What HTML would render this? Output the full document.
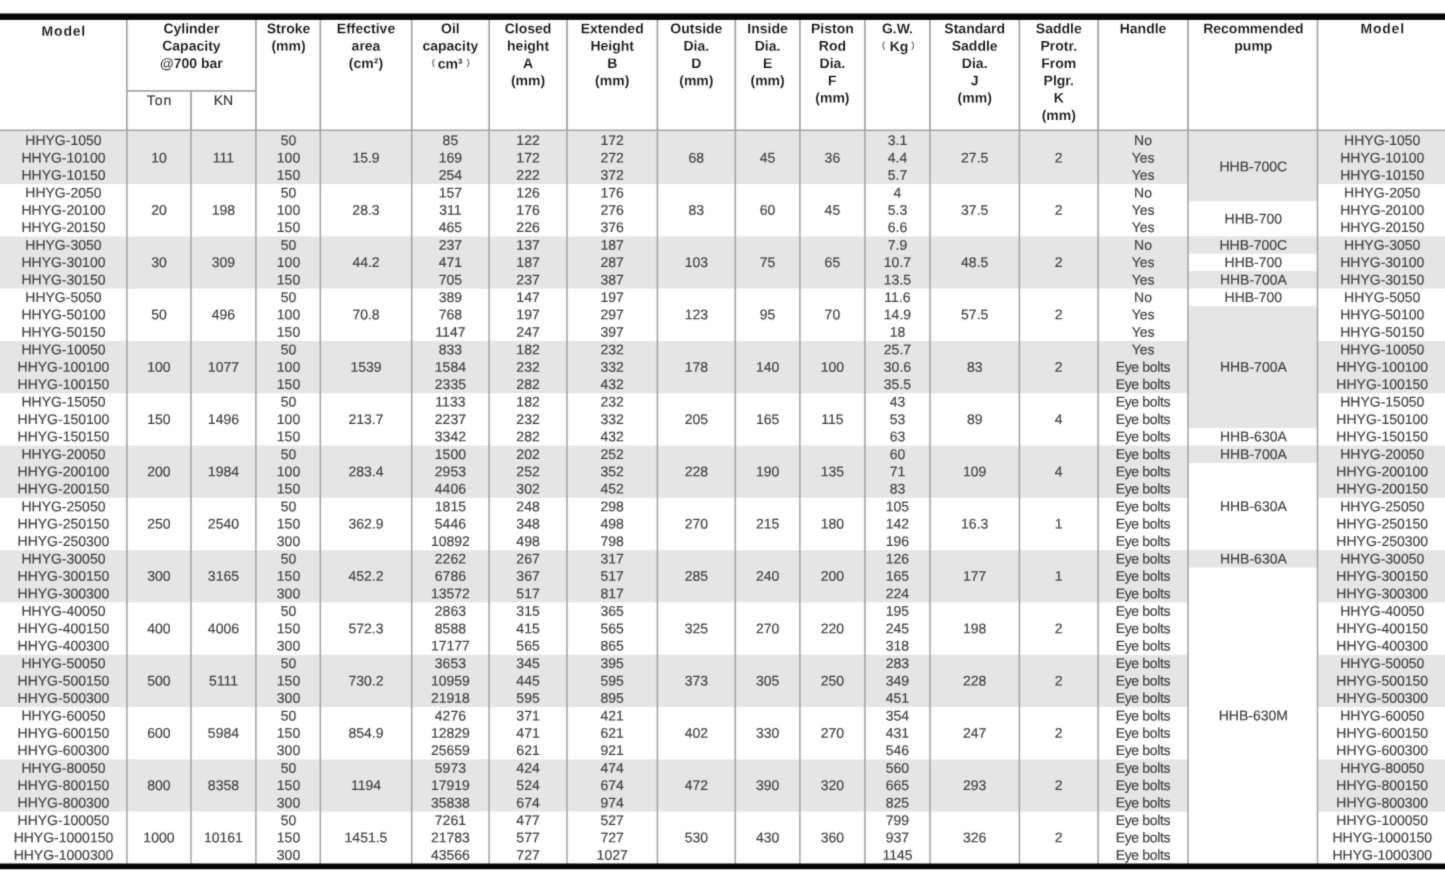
<!DOCTYPE html>
<html lang="en">
<head>
<meta charset="utf-8">
<title>HHYG hydraulic cylinder specifications</title>
<style>
html,body{margin:0;padding:0;background:#fff;}
body{width:1445px;height:878px;overflow:hidden;position:relative;}
#sheet{position:absolute;left:0;top:0;width:1445px;height:878px;overflow:hidden;background:#fff;}
svg{position:absolute;left:0;top:0;display:block;filter:url(#soft);}
text{font-family:"Liberation Sans","Noto Sans CJK SC",sans-serif;text-anchor:middle;font-size:14px;fill:#424242;stroke:#424242;stroke-width:0.18px;}
.h text{font-size:14px;font-weight:bold;fill:#141414;stroke:#fff;stroke-width:0.12px;paint-order:fill stroke;}
.h text.s{font-weight:normal;fill:#333333;stroke:#333333;stroke-width:0.18px;}
.h tspan.p{font-weight:normal;fill:#555;stroke:#555;stroke-width:0.3px;font-size:8.5px;}

</style>
</head>
<body>
<div id="sheet">
<svg width="1445" height="878" viewBox="0 0 1445 878">
<defs><filter id="soft" x="0" y="0" width="100%" height="100%" filterUnits="userSpaceOnUse" color-interpolation-filters="sRGB"><feConvolveMatrix order="3" kernelMatrix="0.01917 0.10012 0.01917 0.10012 0.52283 0.10012 0.01917 0.10012 0.01917" divisor="1" edgeMode="duplicate" preserveAlpha="false"/></filter></defs>
<rect x="0" y="0" width="1445" height="878" fill="#fff"/>
<g class="bg">
<rect x="-5" y="131.75" width="1455" height="52.30" fill="#e5e5e5"/>
<rect x="-5" y="236.35" width="1455" height="52.30" fill="#e5e5e5"/>
<rect x="-5" y="340.95" width="1455" height="52.30" fill="#e5e5e5"/>
<rect x="-5" y="445.55" width="1455" height="52.30" fill="#e5e5e5"/>
<rect x="-5" y="550.15" width="1455" height="52.30" fill="#e5e5e5"/>
<rect x="-5" y="654.75" width="1455" height="52.30" fill="#e5e5e5"/>
<rect x="-5" y="759.35" width="1455" height="52.30" fill="#e5e5e5"/>
<rect x="1188.0" y="131.75" width="129.50" height="69.73" fill="#e5e5e5"/>
<rect x="1188.0" y="201.48" width="129.50" height="34.87" fill="#ffffff"/>
<rect x="1188.0" y="236.35" width="129.50" height="17.43" fill="#e5e5e5"/>
<rect x="1188.0" y="253.78" width="129.50" height="17.43" fill="#ffffff"/>
<rect x="1188.0" y="271.22" width="129.50" height="17.43" fill="#e5e5e5"/>
<rect x="1188.0" y="288.65" width="129.50" height="17.43" fill="#ffffff"/>
<rect x="1188.0" y="306.08" width="129.50" height="122.03" fill="#e5e5e5"/>
<rect x="1188.0" y="428.12" width="129.50" height="17.43" fill="#ffffff"/>
<rect x="1188.0" y="445.55" width="129.50" height="17.43" fill="#e5e5e5"/>
<rect x="1188.0" y="462.98" width="129.50" height="87.17" fill="#ffffff"/>
<rect x="1188.0" y="550.15" width="129.50" height="17.43" fill="#e5e5e5"/>
<rect x="1188.0" y="567.58" width="129.50" height="296.37" fill="#ffffff"/>
<rect x="126.05" y="18" width="1.7" height="112.40" fill="#a3a3a3"/>
<rect x="126.15" y="130.4" width="1.5" height="734.10" fill="#a2a2a2"/>
<rect x="190.15" y="90.9" width="1.7" height="39.50" fill="#a3a3a3"/>
<rect x="190.25" y="130.4" width="1.5" height="734.10" fill="#a2a2a2"/>
<rect x="255.05" y="18" width="1.7" height="112.40" fill="#a3a3a3"/>
<rect x="255.15" y="130.4" width="1.5" height="734.10" fill="#a2a2a2"/>
<rect x="319.45" y="18" width="1.7" height="112.40" fill="#a3a3a3"/>
<rect x="319.55" y="130.4" width="1.5" height="734.10" fill="#a2a2a2"/>
<rect x="410.85" y="18" width="1.7" height="112.40" fill="#a3a3a3"/>
<rect x="410.95" y="130.4" width="1.5" height="734.10" fill="#a2a2a2"/>
<rect x="488.25" y="18" width="1.7" height="112.40" fill="#a3a3a3"/>
<rect x="488.35" y="130.4" width="1.5" height="734.10" fill="#a2a2a2"/>
<rect x="566.15" y="18" width="1.7" height="112.40" fill="#a3a3a3"/>
<rect x="566.25" y="130.4" width="1.5" height="734.10" fill="#a2a2a2"/>
<rect x="656.55" y="18" width="1.7" height="112.40" fill="#a3a3a3"/>
<rect x="656.65" y="130.4" width="1.5" height="734.10" fill="#a2a2a2"/>
<rect x="734.45" y="18" width="1.7" height="112.40" fill="#a3a3a3"/>
<rect x="734.55" y="130.4" width="1.5" height="734.10" fill="#a2a2a2"/>
<rect x="799.05" y="18" width="1.7" height="112.40" fill="#a3a3a3"/>
<rect x="799.15" y="130.4" width="1.5" height="734.10" fill="#a2a2a2"/>
<rect x="864.05" y="18" width="1.7" height="112.40" fill="#a3a3a3"/>
<rect x="864.15" y="130.4" width="1.5" height="734.10" fill="#a2a2a2"/>
<rect x="929.15" y="18" width="1.7" height="112.40" fill="#a3a3a3"/>
<rect x="929.25" y="130.4" width="1.5" height="734.10" fill="#a2a2a2"/>
<rect x="1018.55" y="18" width="1.7" height="112.40" fill="#a3a3a3"/>
<rect x="1018.65" y="130.4" width="1.5" height="734.10" fill="#a2a2a2"/>
<rect x="1097.25" y="18" width="1.7" height="112.40" fill="#a3a3a3"/>
<rect x="1097.35" y="130.4" width="1.5" height="734.10" fill="#a2a2a2"/>
<rect x="1187.15" y="18" width="1.7" height="112.40" fill="#a3a3a3"/>
<rect x="1187.25" y="130.4" width="1.5" height="734.10" fill="#a2a2a2"/>
<rect x="1316.65" y="18" width="1.7" height="112.40" fill="#a3a3a3"/>
<rect x="1316.75" y="130.4" width="1.5" height="734.10" fill="#a2a2a2"/>
<rect x="-5" y="129.55" width="1455" height="1.7" fill="#a3a3a3"/>
<rect x="126.9" y="90.05" width="129.00" height="1.7" fill="#a3a3a3"/>
<rect x="-5" y="12.90" width="1455" height="1" fill="#000" fill-opacity="0.3"/>
<rect x="-5" y="868.80" width="1455" height="1" fill="#000" fill-opacity="0.25"/>
<rect x="-5" y="13.7" width="1455" height="6.2" fill="#060404"/>
<rect x="-5" y="863.5" width="1455" height="5.5" fill="#060404"/>
</g>
<g class="h">
<text x="63.85" y="35.80" transform="rotate(0.04 63.85 35.80)" letter-spacing="0.8">Model</text>
<text x="191.40" y="33.30" transform="rotate(0.04 191.40 33.30)">Cylinder</text>
<text x="191.40" y="50.63" transform="rotate(0.04 191.40 50.63)">Capacity</text>
<text x="191.40" y="67.96" transform="rotate(0.04 191.40 67.96)">@700 bar</text>
<text x="159.45" y="105.00" transform="rotate(0.04 159.45 105.00)" class="s" letter-spacing="1.0">Ton</text>
<text x="223.45" y="105.00" transform="rotate(0.04 223.45 105.00)" class="s">KN</text>
<text x="288.50" y="33.30" transform="rotate(0.04 288.50 33.30)">Stroke</text>
<text x="288.50" y="50.63" transform="rotate(0.04 288.50 50.63)">(mm)</text>
<text x="366.00" y="33.30" transform="rotate(0.04 366.00 33.30)">Effective</text>
<text x="366.00" y="50.63" transform="rotate(0.04 366.00 50.63)">area</text>
<text x="366.00" y="67.96" transform="rotate(0.04 366.00 67.96)">(cm²)</text>
<text x="450.40" y="33.30" transform="rotate(0.04 450.40 33.30)">Oil</text>
<text x="450.40" y="50.63" transform="rotate(0.04 450.40 50.63)">capacity</text>
<text x="450.40" y="67.96" transform="rotate(0.04 450.40 67.96)"><tspan class="p" x="430.8" y="66.16">（</tspan><tspan x="450.1" y="68.46">cm³</tspan><tspan class="p" x="470.8" y="66.16">）</tspan></text>
<text x="528.05" y="33.30" transform="rotate(0.04 528.05 33.30)">Closed</text>
<text x="528.05" y="50.63" transform="rotate(0.04 528.05 50.63)">height</text>
<text x="528.05" y="67.96" transform="rotate(0.04 528.05 67.96)">A</text>
<text x="528.05" y="85.29" transform="rotate(0.04 528.05 85.29)">(mm)</text>
<text x="612.20" y="33.30" transform="rotate(0.04 612.20 33.30)">Extended</text>
<text x="612.20" y="50.63" transform="rotate(0.04 612.20 50.63)">Height</text>
<text x="612.20" y="67.96" transform="rotate(0.04 612.20 67.96)">B</text>
<text x="612.20" y="85.29" transform="rotate(0.04 612.20 85.29)">(mm)</text>
<text x="696.35" y="33.30" transform="rotate(0.04 696.35 33.30)">Outside</text>
<text x="696.35" y="50.63" transform="rotate(0.04 696.35 50.63)">Dia.</text>
<text x="696.35" y="67.96" transform="rotate(0.04 696.35 67.96)">D</text>
<text x="696.35" y="85.29" transform="rotate(0.04 696.35 85.29)">(mm)</text>
<text x="767.60" y="33.30" transform="rotate(0.04 767.60 33.30)">Inside</text>
<text x="767.60" y="50.63" transform="rotate(0.04 767.60 50.63)">Dia.</text>
<text x="767.60" y="67.96" transform="rotate(0.04 767.60 67.96)">E</text>
<text x="767.60" y="85.29" transform="rotate(0.04 767.60 85.29)">(mm)</text>
<text x="832.40" y="33.30" transform="rotate(0.04 832.40 33.30)">Piston</text>
<text x="832.40" y="50.63" transform="rotate(0.04 832.40 50.63)">Rod</text>
<text x="832.40" y="67.96" transform="rotate(0.04 832.40 67.96)">Dia.</text>
<text x="832.40" y="85.29" transform="rotate(0.04 832.40 85.29)">F</text>
<text x="832.40" y="102.62" transform="rotate(0.04 832.40 102.62)">(mm)</text>
<text x="897.45" y="33.30" transform="rotate(0.04 897.45 33.30)">G.W.</text>
<text x="897.45" y="50.63" transform="rotate(0.04 897.45 50.63)"><tspan class="p" x="881.0" y="48.83">（</tspan><tspan x="899.0" y="51.13">Kg</tspan><tspan class="p" x="915.6" y="48.83">）</tspan></text>
<text x="974.70" y="33.30" transform="rotate(0.04 974.70 33.30)">Standard</text>
<text x="974.70" y="50.63" transform="rotate(0.04 974.70 50.63)">Saddle</text>
<text x="974.70" y="67.96" transform="rotate(0.04 974.70 67.96)">Dia.</text>
<text x="974.70" y="85.29" transform="rotate(0.04 974.70 85.29)">J</text>
<text x="974.70" y="102.62" transform="rotate(0.04 974.70 102.62)">(mm)</text>
<text x="1058.75" y="33.30" transform="rotate(0.04 1058.75 33.30)">Saddle</text>
<text x="1058.75" y="50.63" transform="rotate(0.04 1058.75 50.63)">Protr.</text>
<text x="1058.75" y="67.96" transform="rotate(0.04 1058.75 67.96)">From</text>
<text x="1058.75" y="85.29" transform="rotate(0.04 1058.75 85.29)">Plgr.</text>
<text x="1058.75" y="102.62" transform="rotate(0.04 1058.75 102.62)">K</text>
<text x="1058.75" y="119.95" transform="rotate(0.04 1058.75 119.95)">(mm)</text>
<text x="1143.05" y="33.30" transform="rotate(0.04 1143.05 33.30)">Handle</text>
<text x="1253.35" y="33.30" transform="rotate(0.04 1253.35 33.30)">Recommended</text>
<text x="1253.35" y="50.63" transform="rotate(0.04 1253.35 50.63)">pump</text>
<text x="1382.65" y="33.30" transform="rotate(0.04 1382.65 33.30)" letter-spacing="0.8">Model</text>
</g>
<g class="b">
<g>
<text x="63.45" y="145.10" transform="rotate(0.04 63.45 145.10)">HHYG-1050</text>
<text x="63.45" y="162.45" transform="rotate(0.04 63.45 162.45)">HHYG-10100</text>
<text x="63.45" y="179.80" transform="rotate(0.04 63.45 179.80)">HHYG-10150</text>
<text x="158.95" y="162.45" transform="rotate(0.04 158.95 162.45)">10</text>
<text x="223.45" y="162.45" transform="rotate(0.04 223.45 162.45)">111</text>
<text x="288.50" y="145.10" transform="rotate(0.04 288.50 145.10)">50</text>
<text x="288.50" y="162.45" transform="rotate(0.04 288.50 162.45)">100</text>
<text x="288.50" y="179.80" transform="rotate(0.04 288.50 179.80)">150</text>
<text x="366.00" y="162.45" transform="rotate(0.04 366.00 162.45)">15.9</text>
<text x="450.40" y="145.10" transform="rotate(0.04 450.40 145.10)">85</text>
<text x="450.40" y="162.45" transform="rotate(0.04 450.40 162.45)">169</text>
<text x="450.40" y="179.80" transform="rotate(0.04 450.40 179.80)">254</text>
<text x="528.05" y="145.10" transform="rotate(0.04 528.05 145.10)">122</text>
<text x="528.05" y="162.45" transform="rotate(0.04 528.05 162.45)">172</text>
<text x="528.05" y="179.80" transform="rotate(0.04 528.05 179.80)">222</text>
<text x="612.20" y="145.10" transform="rotate(0.04 612.20 145.10)">172</text>
<text x="612.20" y="162.45" transform="rotate(0.04 612.20 162.45)">272</text>
<text x="612.20" y="179.80" transform="rotate(0.04 612.20 179.80)">372</text>
<text x="696.35" y="162.45" transform="rotate(0.04 696.35 162.45)">68</text>
<text x="767.60" y="162.45" transform="rotate(0.04 767.60 162.45)">45</text>
<text x="832.40" y="162.45" transform="rotate(0.04 832.40 162.45)">36</text>
<text x="897.45" y="145.10" transform="rotate(0.04 897.45 145.10)">3.1</text>
<text x="897.45" y="162.45" transform="rotate(0.04 897.45 162.45)">4.4</text>
<text x="897.45" y="179.80" transform="rotate(0.04 897.45 179.80)">5.7</text>
<text x="974.70" y="162.45" transform="rotate(0.04 974.70 162.45)">27.5</text>
<text x="1058.75" y="162.45" transform="rotate(0.04 1058.75 162.45)">2</text>
<text x="1143.05" y="145.10" transform="rotate(0.04 1143.05 145.10)">No</text>
<text x="1143.05" y="162.45" transform="rotate(0.04 1143.05 162.45)">Yes</text>
<text x="1143.05" y="179.80" transform="rotate(0.04 1143.05 179.80)">Yes</text>
<text x="1382.25" y="145.10" transform="rotate(0.04 1382.25 145.10)">HHYG-1050</text>
<text x="1382.25" y="162.45" transform="rotate(0.04 1382.25 162.45)">HHYG-10100</text>
<text x="1382.25" y="179.80" transform="rotate(0.04 1382.25 179.80)">HHYG-10150</text>
</g>
<g>
<text x="63.45" y="197.40" transform="rotate(0.04 63.45 197.40)">HHYG-2050</text>
<text x="63.45" y="214.75" transform="rotate(0.04 63.45 214.75)">HHYG-20100</text>
<text x="63.45" y="232.10" transform="rotate(0.04 63.45 232.10)">HHYG-20150</text>
<text x="158.95" y="214.75" transform="rotate(0.04 158.95 214.75)">20</text>
<text x="223.45" y="214.75" transform="rotate(0.04 223.45 214.75)">198</text>
<text x="288.50" y="197.40" transform="rotate(0.04 288.50 197.40)">50</text>
<text x="288.50" y="214.75" transform="rotate(0.04 288.50 214.75)">100</text>
<text x="288.50" y="232.10" transform="rotate(0.04 288.50 232.10)">150</text>
<text x="366.00" y="214.75" transform="rotate(0.04 366.00 214.75)">28.3</text>
<text x="450.40" y="197.40" transform="rotate(0.04 450.40 197.40)">157</text>
<text x="450.40" y="214.75" transform="rotate(0.04 450.40 214.75)">311</text>
<text x="450.40" y="232.10" transform="rotate(0.04 450.40 232.10)">465</text>
<text x="528.05" y="197.40" transform="rotate(0.04 528.05 197.40)">126</text>
<text x="528.05" y="214.75" transform="rotate(0.04 528.05 214.75)">176</text>
<text x="528.05" y="232.10" transform="rotate(0.04 528.05 232.10)">226</text>
<text x="612.20" y="197.40" transform="rotate(0.04 612.20 197.40)">176</text>
<text x="612.20" y="214.75" transform="rotate(0.04 612.20 214.75)">276</text>
<text x="612.20" y="232.10" transform="rotate(0.04 612.20 232.10)">376</text>
<text x="696.35" y="214.75" transform="rotate(0.04 696.35 214.75)">83</text>
<text x="767.60" y="214.75" transform="rotate(0.04 767.60 214.75)">60</text>
<text x="832.40" y="214.75" transform="rotate(0.04 832.40 214.75)">45</text>
<text x="897.45" y="197.40" transform="rotate(0.04 897.45 197.40)">4</text>
<text x="897.45" y="214.75" transform="rotate(0.04 897.45 214.75)">5.3</text>
<text x="897.45" y="232.10" transform="rotate(0.04 897.45 232.10)">6.6</text>
<text x="974.70" y="214.75" transform="rotate(0.04 974.70 214.75)">37.5</text>
<text x="1058.75" y="214.75" transform="rotate(0.04 1058.75 214.75)">2</text>
<text x="1143.05" y="197.40" transform="rotate(0.04 1143.05 197.40)">No</text>
<text x="1143.05" y="214.75" transform="rotate(0.04 1143.05 214.75)">Yes</text>
<text x="1143.05" y="232.10" transform="rotate(0.04 1143.05 232.10)">Yes</text>
<text x="1382.25" y="197.40" transform="rotate(0.04 1382.25 197.40)">HHYG-2050</text>
<text x="1382.25" y="214.75" transform="rotate(0.04 1382.25 214.75)">HHYG-20100</text>
<text x="1382.25" y="232.10" transform="rotate(0.04 1382.25 232.10)">HHYG-20150</text>
</g>
<g>
<text x="63.45" y="249.70" transform="rotate(0.04 63.45 249.70)">HHYG-3050</text>
<text x="63.45" y="267.05" transform="rotate(0.04 63.45 267.05)">HHYG-30100</text>
<text x="63.45" y="284.40" transform="rotate(0.04 63.45 284.40)">HHYG-30150</text>
<text x="158.95" y="267.05" transform="rotate(0.04 158.95 267.05)">30</text>
<text x="223.45" y="267.05" transform="rotate(0.04 223.45 267.05)">309</text>
<text x="288.50" y="249.70" transform="rotate(0.04 288.50 249.70)">50</text>
<text x="288.50" y="267.05" transform="rotate(0.04 288.50 267.05)">100</text>
<text x="288.50" y="284.40" transform="rotate(0.04 288.50 284.40)">150</text>
<text x="366.00" y="267.05" transform="rotate(0.04 366.00 267.05)">44.2</text>
<text x="450.40" y="249.70" transform="rotate(0.04 450.40 249.70)">237</text>
<text x="450.40" y="267.05" transform="rotate(0.04 450.40 267.05)">471</text>
<text x="450.40" y="284.40" transform="rotate(0.04 450.40 284.40)">705</text>
<text x="528.05" y="249.70" transform="rotate(0.04 528.05 249.70)">137</text>
<text x="528.05" y="267.05" transform="rotate(0.04 528.05 267.05)">187</text>
<text x="528.05" y="284.40" transform="rotate(0.04 528.05 284.40)">237</text>
<text x="612.20" y="249.70" transform="rotate(0.04 612.20 249.70)">187</text>
<text x="612.20" y="267.05" transform="rotate(0.04 612.20 267.05)">287</text>
<text x="612.20" y="284.40" transform="rotate(0.04 612.20 284.40)">387</text>
<text x="696.35" y="267.05" transform="rotate(0.04 696.35 267.05)">103</text>
<text x="767.60" y="267.05" transform="rotate(0.04 767.60 267.05)">75</text>
<text x="832.40" y="267.05" transform="rotate(0.04 832.40 267.05)">65</text>
<text x="897.45" y="249.70" transform="rotate(0.04 897.45 249.70)">7.9</text>
<text x="897.45" y="267.05" transform="rotate(0.04 897.45 267.05)">10.7</text>
<text x="897.45" y="284.40" transform="rotate(0.04 897.45 284.40)">13.5</text>
<text x="974.70" y="267.05" transform="rotate(0.04 974.70 267.05)">48.5</text>
<text x="1058.75" y="267.05" transform="rotate(0.04 1058.75 267.05)">2</text>
<text x="1143.05" y="249.70" transform="rotate(0.04 1143.05 249.70)">No</text>
<text x="1143.05" y="267.05" transform="rotate(0.04 1143.05 267.05)">Yes</text>
<text x="1143.05" y="284.40" transform="rotate(0.04 1143.05 284.40)">Yes</text>
<text x="1382.25" y="249.70" transform="rotate(0.04 1382.25 249.70)">HHYG-3050</text>
<text x="1382.25" y="267.05" transform="rotate(0.04 1382.25 267.05)">HHYG-30100</text>
<text x="1382.25" y="284.40" transform="rotate(0.04 1382.25 284.40)">HHYG-30150</text>
</g>
<g>
<text x="63.45" y="302.00" transform="rotate(0.04 63.45 302.00)">HHYG-5050</text>
<text x="63.45" y="319.35" transform="rotate(0.04 63.45 319.35)">HHYG-50100</text>
<text x="63.45" y="336.70" transform="rotate(0.04 63.45 336.70)">HHYG-50150</text>
<text x="158.95" y="319.35" transform="rotate(0.04 158.95 319.35)">50</text>
<text x="223.45" y="319.35" transform="rotate(0.04 223.45 319.35)">496</text>
<text x="288.50" y="302.00" transform="rotate(0.04 288.50 302.00)">50</text>
<text x="288.50" y="319.35" transform="rotate(0.04 288.50 319.35)">100</text>
<text x="288.50" y="336.70" transform="rotate(0.04 288.50 336.70)">150</text>
<text x="366.00" y="319.35" transform="rotate(0.04 366.00 319.35)">70.8</text>
<text x="450.40" y="302.00" transform="rotate(0.04 450.40 302.00)">389</text>
<text x="450.40" y="319.35" transform="rotate(0.04 450.40 319.35)">768</text>
<text x="450.40" y="336.70" transform="rotate(0.04 450.40 336.70)">1147</text>
<text x="528.05" y="302.00" transform="rotate(0.04 528.05 302.00)">147</text>
<text x="528.05" y="319.35" transform="rotate(0.04 528.05 319.35)">197</text>
<text x="528.05" y="336.70" transform="rotate(0.04 528.05 336.70)">247</text>
<text x="612.20" y="302.00" transform="rotate(0.04 612.20 302.00)">197</text>
<text x="612.20" y="319.35" transform="rotate(0.04 612.20 319.35)">297</text>
<text x="612.20" y="336.70" transform="rotate(0.04 612.20 336.70)">397</text>
<text x="696.35" y="319.35" transform="rotate(0.04 696.35 319.35)">123</text>
<text x="767.60" y="319.35" transform="rotate(0.04 767.60 319.35)">95</text>
<text x="832.40" y="319.35" transform="rotate(0.04 832.40 319.35)">70</text>
<text x="897.45" y="302.00" transform="rotate(0.04 897.45 302.00)">11.6</text>
<text x="897.45" y="319.35" transform="rotate(0.04 897.45 319.35)">14.9</text>
<text x="897.45" y="336.70" transform="rotate(0.04 897.45 336.70)">18</text>
<text x="974.70" y="319.35" transform="rotate(0.04 974.70 319.35)">57.5</text>
<text x="1058.75" y="319.35" transform="rotate(0.04 1058.75 319.35)">2</text>
<text x="1143.05" y="302.00" transform="rotate(0.04 1143.05 302.00)">No</text>
<text x="1143.05" y="319.35" transform="rotate(0.04 1143.05 319.35)">Yes</text>
<text x="1143.05" y="336.70" transform="rotate(0.04 1143.05 336.70)">Yes</text>
<text x="1382.25" y="302.00" transform="rotate(0.04 1382.25 302.00)">HHYG-5050</text>
<text x="1382.25" y="319.35" transform="rotate(0.04 1382.25 319.35)">HHYG-50100</text>
<text x="1382.25" y="336.70" transform="rotate(0.04 1382.25 336.70)">HHYG-50150</text>
</g>
<g>
<text x="63.45" y="354.30" transform="rotate(0.04 63.45 354.30)">HHYG-10050</text>
<text x="63.45" y="371.65" transform="rotate(0.04 63.45 371.65)">HHYG-100100</text>
<text x="63.45" y="389.00" transform="rotate(0.04 63.45 389.00)">HHYG-100150</text>
<text x="158.95" y="371.65" transform="rotate(0.04 158.95 371.65)">100</text>
<text x="223.45" y="371.65" transform="rotate(0.04 223.45 371.65)">1077</text>
<text x="288.50" y="354.30" transform="rotate(0.04 288.50 354.30)">50</text>
<text x="288.50" y="371.65" transform="rotate(0.04 288.50 371.65)">100</text>
<text x="288.50" y="389.00" transform="rotate(0.04 288.50 389.00)">150</text>
<text x="366.00" y="371.65" transform="rotate(0.04 366.00 371.65)">1539</text>
<text x="450.40" y="354.30" transform="rotate(0.04 450.40 354.30)">833</text>
<text x="450.40" y="371.65" transform="rotate(0.04 450.40 371.65)">1584</text>
<text x="450.40" y="389.00" transform="rotate(0.04 450.40 389.00)">2335</text>
<text x="528.05" y="354.30" transform="rotate(0.04 528.05 354.30)">182</text>
<text x="528.05" y="371.65" transform="rotate(0.04 528.05 371.65)">232</text>
<text x="528.05" y="389.00" transform="rotate(0.04 528.05 389.00)">282</text>
<text x="612.20" y="354.30" transform="rotate(0.04 612.20 354.30)">232</text>
<text x="612.20" y="371.65" transform="rotate(0.04 612.20 371.65)">332</text>
<text x="612.20" y="389.00" transform="rotate(0.04 612.20 389.00)">432</text>
<text x="696.35" y="371.65" transform="rotate(0.04 696.35 371.65)">178</text>
<text x="767.60" y="371.65" transform="rotate(0.04 767.60 371.65)">140</text>
<text x="832.40" y="371.65" transform="rotate(0.04 832.40 371.65)">100</text>
<text x="897.45" y="354.30" transform="rotate(0.04 897.45 354.30)">25.7</text>
<text x="897.45" y="371.65" transform="rotate(0.04 897.45 371.65)">30.6</text>
<text x="897.45" y="389.00" transform="rotate(0.04 897.45 389.00)">35.5</text>
<text x="974.70" y="371.65" transform="rotate(0.04 974.70 371.65)">83</text>
<text x="1058.75" y="371.65" transform="rotate(0.04 1058.75 371.65)">2</text>
<text x="1143.05" y="354.30" transform="rotate(0.04 1143.05 354.30)">Yes</text>
<text x="1142.88" y="371.65" transform="rotate(0.04 1142.88 371.65)" letter-spacing="-0.35">Eye bolts</text>
<text x="1142.88" y="389.00" transform="rotate(0.04 1142.88 389.00)" letter-spacing="-0.35">Eye bolts</text>
<text x="1382.25" y="354.30" transform="rotate(0.04 1382.25 354.30)">HHYG-10050</text>
<text x="1382.25" y="371.65" transform="rotate(0.04 1382.25 371.65)">HHYG-100100</text>
<text x="1382.25" y="389.00" transform="rotate(0.04 1382.25 389.00)">HHYG-100150</text>
</g>
<g>
<text x="63.45" y="406.60" transform="rotate(0.04 63.45 406.60)">HHYG-15050</text>
<text x="63.45" y="423.95" transform="rotate(0.04 63.45 423.95)">HHYG-150100</text>
<text x="63.45" y="441.30" transform="rotate(0.04 63.45 441.30)">HHYG-150150</text>
<text x="158.95" y="423.95" transform="rotate(0.04 158.95 423.95)">150</text>
<text x="223.45" y="423.95" transform="rotate(0.04 223.45 423.95)">1496</text>
<text x="288.50" y="406.60" transform="rotate(0.04 288.50 406.60)">50</text>
<text x="288.50" y="423.95" transform="rotate(0.04 288.50 423.95)">100</text>
<text x="288.50" y="441.30" transform="rotate(0.04 288.50 441.30)">150</text>
<text x="366.00" y="423.95" transform="rotate(0.04 366.00 423.95)">213.7</text>
<text x="450.40" y="406.60" transform="rotate(0.04 450.40 406.60)">1133</text>
<text x="450.40" y="423.95" transform="rotate(0.04 450.40 423.95)">2237</text>
<text x="450.40" y="441.30" transform="rotate(0.04 450.40 441.30)">3342</text>
<text x="528.05" y="406.60" transform="rotate(0.04 528.05 406.60)">182</text>
<text x="528.05" y="423.95" transform="rotate(0.04 528.05 423.95)">232</text>
<text x="528.05" y="441.30" transform="rotate(0.04 528.05 441.30)">282</text>
<text x="612.20" y="406.60" transform="rotate(0.04 612.20 406.60)">232</text>
<text x="612.20" y="423.95" transform="rotate(0.04 612.20 423.95)">332</text>
<text x="612.20" y="441.30" transform="rotate(0.04 612.20 441.30)">432</text>
<text x="696.35" y="423.95" transform="rotate(0.04 696.35 423.95)">205</text>
<text x="767.60" y="423.95" transform="rotate(0.04 767.60 423.95)">165</text>
<text x="832.40" y="423.95" transform="rotate(0.04 832.40 423.95)">115</text>
<text x="897.45" y="406.60" transform="rotate(0.04 897.45 406.60)">43</text>
<text x="897.45" y="423.95" transform="rotate(0.04 897.45 423.95)">53</text>
<text x="897.45" y="441.30" transform="rotate(0.04 897.45 441.30)">63</text>
<text x="974.70" y="423.95" transform="rotate(0.04 974.70 423.95)">89</text>
<text x="1058.75" y="423.95" transform="rotate(0.04 1058.75 423.95)">4</text>
<text x="1142.88" y="406.60" transform="rotate(0.04 1142.88 406.60)" letter-spacing="-0.35">Eye bolts</text>
<text x="1142.88" y="423.95" transform="rotate(0.04 1142.88 423.95)" letter-spacing="-0.35">Eye bolts</text>
<text x="1142.88" y="441.30" transform="rotate(0.04 1142.88 441.30)" letter-spacing="-0.35">Eye bolts</text>
<text x="1382.25" y="406.60" transform="rotate(0.04 1382.25 406.60)">HHYG-15050</text>
<text x="1382.25" y="423.95" transform="rotate(0.04 1382.25 423.95)">HHYG-150100</text>
<text x="1382.25" y="441.30" transform="rotate(0.04 1382.25 441.30)">HHYG-150150</text>
</g>
<g>
<text x="63.45" y="458.90" transform="rotate(0.04 63.45 458.90)">HHYG-20050</text>
<text x="63.45" y="476.25" transform="rotate(0.04 63.45 476.25)">HHYG-200100</text>
<text x="63.45" y="493.60" transform="rotate(0.04 63.45 493.60)">HHYG-200150</text>
<text x="158.95" y="476.25" transform="rotate(0.04 158.95 476.25)">200</text>
<text x="223.45" y="476.25" transform="rotate(0.04 223.45 476.25)">1984</text>
<text x="288.50" y="458.90" transform="rotate(0.04 288.50 458.90)">50</text>
<text x="288.50" y="476.25" transform="rotate(0.04 288.50 476.25)">100</text>
<text x="288.50" y="493.60" transform="rotate(0.04 288.50 493.60)">150</text>
<text x="366.00" y="476.25" transform="rotate(0.04 366.00 476.25)">283.4</text>
<text x="450.40" y="458.90" transform="rotate(0.04 450.40 458.90)">1500</text>
<text x="450.40" y="476.25" transform="rotate(0.04 450.40 476.25)">2953</text>
<text x="450.40" y="493.60" transform="rotate(0.04 450.40 493.60)">4406</text>
<text x="528.05" y="458.90" transform="rotate(0.04 528.05 458.90)">202</text>
<text x="528.05" y="476.25" transform="rotate(0.04 528.05 476.25)">252</text>
<text x="528.05" y="493.60" transform="rotate(0.04 528.05 493.60)">302</text>
<text x="612.20" y="458.90" transform="rotate(0.04 612.20 458.90)">252</text>
<text x="612.20" y="476.25" transform="rotate(0.04 612.20 476.25)">352</text>
<text x="612.20" y="493.60" transform="rotate(0.04 612.20 493.60)">452</text>
<text x="696.35" y="476.25" transform="rotate(0.04 696.35 476.25)">228</text>
<text x="767.60" y="476.25" transform="rotate(0.04 767.60 476.25)">190</text>
<text x="832.40" y="476.25" transform="rotate(0.04 832.40 476.25)">135</text>
<text x="897.45" y="458.90" transform="rotate(0.04 897.45 458.90)">60</text>
<text x="897.45" y="476.25" transform="rotate(0.04 897.45 476.25)">71</text>
<text x="897.45" y="493.60" transform="rotate(0.04 897.45 493.60)">83</text>
<text x="974.70" y="476.25" transform="rotate(0.04 974.70 476.25)">109</text>
<text x="1058.75" y="476.25" transform="rotate(0.04 1058.75 476.25)">4</text>
<text x="1142.88" y="458.90" transform="rotate(0.04 1142.88 458.90)" letter-spacing="-0.35">Eye bolts</text>
<text x="1142.88" y="476.25" transform="rotate(0.04 1142.88 476.25)" letter-spacing="-0.35">Eye bolts</text>
<text x="1142.88" y="493.60" transform="rotate(0.04 1142.88 493.60)" letter-spacing="-0.35">Eye bolts</text>
<text x="1382.25" y="458.90" transform="rotate(0.04 1382.25 458.90)">HHYG-20050</text>
<text x="1382.25" y="476.25" transform="rotate(0.04 1382.25 476.25)">HHYG-200100</text>
<text x="1382.25" y="493.60" transform="rotate(0.04 1382.25 493.60)">HHYG-200150</text>
</g>
<g>
<text x="63.45" y="511.20" transform="rotate(0.04 63.45 511.20)">HHYG-25050</text>
<text x="63.45" y="528.55" transform="rotate(0.04 63.45 528.55)">HHYG-250150</text>
<text x="63.45" y="545.90" transform="rotate(0.04 63.45 545.90)">HHYG-250300</text>
<text x="158.95" y="528.55" transform="rotate(0.04 158.95 528.55)">250</text>
<text x="223.45" y="528.55" transform="rotate(0.04 223.45 528.55)">2540</text>
<text x="288.50" y="511.20" transform="rotate(0.04 288.50 511.20)">50</text>
<text x="288.50" y="528.55" transform="rotate(0.04 288.50 528.55)">150</text>
<text x="288.50" y="545.90" transform="rotate(0.04 288.50 545.90)">300</text>
<text x="366.00" y="528.55" transform="rotate(0.04 366.00 528.55)">362.9</text>
<text x="450.40" y="511.20" transform="rotate(0.04 450.40 511.20)">1815</text>
<text x="450.40" y="528.55" transform="rotate(0.04 450.40 528.55)">5446</text>
<text x="450.40" y="545.90" transform="rotate(0.04 450.40 545.90)">10892</text>
<text x="528.05" y="511.20" transform="rotate(0.04 528.05 511.20)">248</text>
<text x="528.05" y="528.55" transform="rotate(0.04 528.05 528.55)">348</text>
<text x="528.05" y="545.90" transform="rotate(0.04 528.05 545.90)">498</text>
<text x="612.20" y="511.20" transform="rotate(0.04 612.20 511.20)">298</text>
<text x="612.20" y="528.55" transform="rotate(0.04 612.20 528.55)">498</text>
<text x="612.20" y="545.90" transform="rotate(0.04 612.20 545.90)">798</text>
<text x="696.35" y="528.55" transform="rotate(0.04 696.35 528.55)">270</text>
<text x="767.60" y="528.55" transform="rotate(0.04 767.60 528.55)">215</text>
<text x="832.40" y="528.55" transform="rotate(0.04 832.40 528.55)">180</text>
<text x="897.45" y="511.20" transform="rotate(0.04 897.45 511.20)">105</text>
<text x="897.45" y="528.55" transform="rotate(0.04 897.45 528.55)">142</text>
<text x="897.45" y="545.90" transform="rotate(0.04 897.45 545.90)">196</text>
<text x="974.70" y="528.55" transform="rotate(0.04 974.70 528.55)">16.3</text>
<text x="1058.75" y="528.55" transform="rotate(0.04 1058.75 528.55)">1</text>
<text x="1142.88" y="511.20" transform="rotate(0.04 1142.88 511.20)" letter-spacing="-0.35">Eye bolts</text>
<text x="1142.88" y="528.55" transform="rotate(0.04 1142.88 528.55)" letter-spacing="-0.35">Eye bolts</text>
<text x="1142.88" y="545.90" transform="rotate(0.04 1142.88 545.90)" letter-spacing="-0.35">Eye bolts</text>
<text x="1382.25" y="511.20" transform="rotate(0.04 1382.25 511.20)">HHYG-25050</text>
<text x="1382.25" y="528.55" transform="rotate(0.04 1382.25 528.55)">HHYG-250150</text>
<text x="1382.25" y="545.90" transform="rotate(0.04 1382.25 545.90)">HHYG-250300</text>
</g>
<g>
<text x="63.45" y="563.50" transform="rotate(0.04 63.45 563.50)">HHYG-30050</text>
<text x="63.45" y="580.85" transform="rotate(0.04 63.45 580.85)">HHYG-300150</text>
<text x="63.45" y="598.20" transform="rotate(0.04 63.45 598.20)">HHYG-300300</text>
<text x="158.95" y="580.85" transform="rotate(0.04 158.95 580.85)">300</text>
<text x="223.45" y="580.85" transform="rotate(0.04 223.45 580.85)">3165</text>
<text x="288.50" y="563.50" transform="rotate(0.04 288.50 563.50)">50</text>
<text x="288.50" y="580.85" transform="rotate(0.04 288.50 580.85)">150</text>
<text x="288.50" y="598.20" transform="rotate(0.04 288.50 598.20)">300</text>
<text x="366.00" y="580.85" transform="rotate(0.04 366.00 580.85)">452.2</text>
<text x="450.40" y="563.50" transform="rotate(0.04 450.40 563.50)">2262</text>
<text x="450.40" y="580.85" transform="rotate(0.04 450.40 580.85)">6786</text>
<text x="450.40" y="598.20" transform="rotate(0.04 450.40 598.20)">13572</text>
<text x="528.05" y="563.50" transform="rotate(0.04 528.05 563.50)">267</text>
<text x="528.05" y="580.85" transform="rotate(0.04 528.05 580.85)">367</text>
<text x="528.05" y="598.20" transform="rotate(0.04 528.05 598.20)">517</text>
<text x="612.20" y="563.50" transform="rotate(0.04 612.20 563.50)">317</text>
<text x="612.20" y="580.85" transform="rotate(0.04 612.20 580.85)">517</text>
<text x="612.20" y="598.20" transform="rotate(0.04 612.20 598.20)">817</text>
<text x="696.35" y="580.85" transform="rotate(0.04 696.35 580.85)">285</text>
<text x="767.60" y="580.85" transform="rotate(0.04 767.60 580.85)">240</text>
<text x="832.40" y="580.85" transform="rotate(0.04 832.40 580.85)">200</text>
<text x="897.45" y="563.50" transform="rotate(0.04 897.45 563.50)">126</text>
<text x="897.45" y="580.85" transform="rotate(0.04 897.45 580.85)">165</text>
<text x="897.45" y="598.20" transform="rotate(0.04 897.45 598.20)">224</text>
<text x="974.70" y="580.85" transform="rotate(0.04 974.70 580.85)">177</text>
<text x="1058.75" y="580.85" transform="rotate(0.04 1058.75 580.85)">1</text>
<text x="1142.88" y="563.50" transform="rotate(0.04 1142.88 563.50)" letter-spacing="-0.35">Eye bolts</text>
<text x="1142.88" y="580.85" transform="rotate(0.04 1142.88 580.85)" letter-spacing="-0.35">Eye bolts</text>
<text x="1142.88" y="598.20" transform="rotate(0.04 1142.88 598.20)" letter-spacing="-0.35">Eye bolts</text>
<text x="1382.25" y="563.50" transform="rotate(0.04 1382.25 563.50)">HHYG-30050</text>
<text x="1382.25" y="580.85" transform="rotate(0.04 1382.25 580.85)">HHYG-300150</text>
<text x="1382.25" y="598.20" transform="rotate(0.04 1382.25 598.20)">HHYG-300300</text>
</g>
<g>
<text x="63.45" y="615.80" transform="rotate(0.04 63.45 615.80)">HHYG-40050</text>
<text x="63.45" y="633.15" transform="rotate(0.04 63.45 633.15)">HHYG-400150</text>
<text x="63.45" y="650.50" transform="rotate(0.04 63.45 650.50)">HHYG-400300</text>
<text x="158.95" y="633.15" transform="rotate(0.04 158.95 633.15)">400</text>
<text x="223.45" y="633.15" transform="rotate(0.04 223.45 633.15)">4006</text>
<text x="288.50" y="615.80" transform="rotate(0.04 288.50 615.80)">50</text>
<text x="288.50" y="633.15" transform="rotate(0.04 288.50 633.15)">150</text>
<text x="288.50" y="650.50" transform="rotate(0.04 288.50 650.50)">300</text>
<text x="366.00" y="633.15" transform="rotate(0.04 366.00 633.15)">572.3</text>
<text x="450.40" y="615.80" transform="rotate(0.04 450.40 615.80)">2863</text>
<text x="450.40" y="633.15" transform="rotate(0.04 450.40 633.15)">8588</text>
<text x="450.40" y="650.50" transform="rotate(0.04 450.40 650.50)">17177</text>
<text x="528.05" y="615.80" transform="rotate(0.04 528.05 615.80)">315</text>
<text x="528.05" y="633.15" transform="rotate(0.04 528.05 633.15)">415</text>
<text x="528.05" y="650.50" transform="rotate(0.04 528.05 650.50)">565</text>
<text x="612.20" y="615.80" transform="rotate(0.04 612.20 615.80)">365</text>
<text x="612.20" y="633.15" transform="rotate(0.04 612.20 633.15)">565</text>
<text x="612.20" y="650.50" transform="rotate(0.04 612.20 650.50)">865</text>
<text x="696.35" y="633.15" transform="rotate(0.04 696.35 633.15)">325</text>
<text x="767.60" y="633.15" transform="rotate(0.04 767.60 633.15)">270</text>
<text x="832.40" y="633.15" transform="rotate(0.04 832.40 633.15)">220</text>
<text x="897.45" y="615.80" transform="rotate(0.04 897.45 615.80)">195</text>
<text x="897.45" y="633.15" transform="rotate(0.04 897.45 633.15)">245</text>
<text x="897.45" y="650.50" transform="rotate(0.04 897.45 650.50)">318</text>
<text x="974.70" y="633.15" transform="rotate(0.04 974.70 633.15)">198</text>
<text x="1058.75" y="633.15" transform="rotate(0.04 1058.75 633.15)">2</text>
<text x="1142.88" y="615.80" transform="rotate(0.04 1142.88 615.80)" letter-spacing="-0.35">Eye bolts</text>
<text x="1142.88" y="633.15" transform="rotate(0.04 1142.88 633.15)" letter-spacing="-0.35">Eye bolts</text>
<text x="1142.88" y="650.50" transform="rotate(0.04 1142.88 650.50)" letter-spacing="-0.35">Eye bolts</text>
<text x="1382.25" y="615.80" transform="rotate(0.04 1382.25 615.80)">HHYG-40050</text>
<text x="1382.25" y="633.15" transform="rotate(0.04 1382.25 633.15)">HHYG-400150</text>
<text x="1382.25" y="650.50" transform="rotate(0.04 1382.25 650.50)">HHYG-400300</text>
</g>
<g>
<text x="63.45" y="668.10" transform="rotate(0.04 63.45 668.10)">HHYG-50050</text>
<text x="63.45" y="685.45" transform="rotate(0.04 63.45 685.45)">HHYG-500150</text>
<text x="63.45" y="702.80" transform="rotate(0.04 63.45 702.80)">HHYG-500300</text>
<text x="158.95" y="685.45" transform="rotate(0.04 158.95 685.45)">500</text>
<text x="223.45" y="685.45" transform="rotate(0.04 223.45 685.45)">5111</text>
<text x="288.50" y="668.10" transform="rotate(0.04 288.50 668.10)">50</text>
<text x="288.50" y="685.45" transform="rotate(0.04 288.50 685.45)">150</text>
<text x="288.50" y="702.80" transform="rotate(0.04 288.50 702.80)">300</text>
<text x="366.00" y="685.45" transform="rotate(0.04 366.00 685.45)">730.2</text>
<text x="450.40" y="668.10" transform="rotate(0.04 450.40 668.10)">3653</text>
<text x="450.40" y="685.45" transform="rotate(0.04 450.40 685.45)">10959</text>
<text x="450.40" y="702.80" transform="rotate(0.04 450.40 702.80)">21918</text>
<text x="528.05" y="668.10" transform="rotate(0.04 528.05 668.10)">345</text>
<text x="528.05" y="685.45" transform="rotate(0.04 528.05 685.45)">445</text>
<text x="528.05" y="702.80" transform="rotate(0.04 528.05 702.80)">595</text>
<text x="612.20" y="668.10" transform="rotate(0.04 612.20 668.10)">395</text>
<text x="612.20" y="685.45" transform="rotate(0.04 612.20 685.45)">595</text>
<text x="612.20" y="702.80" transform="rotate(0.04 612.20 702.80)">895</text>
<text x="696.35" y="685.45" transform="rotate(0.04 696.35 685.45)">373</text>
<text x="767.60" y="685.45" transform="rotate(0.04 767.60 685.45)">305</text>
<text x="832.40" y="685.45" transform="rotate(0.04 832.40 685.45)">250</text>
<text x="897.45" y="668.10" transform="rotate(0.04 897.45 668.10)">283</text>
<text x="897.45" y="685.45" transform="rotate(0.04 897.45 685.45)">349</text>
<text x="897.45" y="702.80" transform="rotate(0.04 897.45 702.80)">451</text>
<text x="974.70" y="685.45" transform="rotate(0.04 974.70 685.45)">228</text>
<text x="1058.75" y="685.45" transform="rotate(0.04 1058.75 685.45)">2</text>
<text x="1142.88" y="668.10" transform="rotate(0.04 1142.88 668.10)" letter-spacing="-0.35">Eye bolts</text>
<text x="1142.88" y="685.45" transform="rotate(0.04 1142.88 685.45)" letter-spacing="-0.35">Eye bolts</text>
<text x="1142.88" y="702.80" transform="rotate(0.04 1142.88 702.80)" letter-spacing="-0.35">Eye bolts</text>
<text x="1382.25" y="668.10" transform="rotate(0.04 1382.25 668.10)">HHYG-50050</text>
<text x="1382.25" y="685.45" transform="rotate(0.04 1382.25 685.45)">HHYG-500150</text>
<text x="1382.25" y="702.80" transform="rotate(0.04 1382.25 702.80)">HHYG-500300</text>
</g>
<g>
<text x="63.45" y="720.40" transform="rotate(0.04 63.45 720.40)">HHYG-60050</text>
<text x="63.45" y="737.75" transform="rotate(0.04 63.45 737.75)">HHYG-600150</text>
<text x="63.45" y="755.10" transform="rotate(0.04 63.45 755.10)">HHYG-600300</text>
<text x="158.95" y="737.75" transform="rotate(0.04 158.95 737.75)">600</text>
<text x="223.45" y="737.75" transform="rotate(0.04 223.45 737.75)">5984</text>
<text x="288.50" y="720.40" transform="rotate(0.04 288.50 720.40)">50</text>
<text x="288.50" y="737.75" transform="rotate(0.04 288.50 737.75)">150</text>
<text x="288.50" y="755.10" transform="rotate(0.04 288.50 755.10)">300</text>
<text x="366.00" y="737.75" transform="rotate(0.04 366.00 737.75)">854.9</text>
<text x="450.40" y="720.40" transform="rotate(0.04 450.40 720.40)">4276</text>
<text x="450.40" y="737.75" transform="rotate(0.04 450.40 737.75)">12829</text>
<text x="450.40" y="755.10" transform="rotate(0.04 450.40 755.10)">25659</text>
<text x="528.05" y="720.40" transform="rotate(0.04 528.05 720.40)">371</text>
<text x="528.05" y="737.75" transform="rotate(0.04 528.05 737.75)">471</text>
<text x="528.05" y="755.10" transform="rotate(0.04 528.05 755.10)">621</text>
<text x="612.20" y="720.40" transform="rotate(0.04 612.20 720.40)">421</text>
<text x="612.20" y="737.75" transform="rotate(0.04 612.20 737.75)">621</text>
<text x="612.20" y="755.10" transform="rotate(0.04 612.20 755.10)">921</text>
<text x="696.35" y="737.75" transform="rotate(0.04 696.35 737.75)">402</text>
<text x="767.60" y="737.75" transform="rotate(0.04 767.60 737.75)">330</text>
<text x="832.40" y="737.75" transform="rotate(0.04 832.40 737.75)">270</text>
<text x="897.45" y="720.40" transform="rotate(0.04 897.45 720.40)">354</text>
<text x="897.45" y="737.75" transform="rotate(0.04 897.45 737.75)">431</text>
<text x="897.45" y="755.10" transform="rotate(0.04 897.45 755.10)">546</text>
<text x="974.70" y="737.75" transform="rotate(0.04 974.70 737.75)">247</text>
<text x="1058.75" y="737.75" transform="rotate(0.04 1058.75 737.75)">2</text>
<text x="1142.88" y="720.40" transform="rotate(0.04 1142.88 720.40)" letter-spacing="-0.35">Eye bolts</text>
<text x="1142.88" y="737.75" transform="rotate(0.04 1142.88 737.75)" letter-spacing="-0.35">Eye bolts</text>
<text x="1142.88" y="755.10" transform="rotate(0.04 1142.88 755.10)" letter-spacing="-0.35">Eye bolts</text>
<text x="1382.25" y="720.40" transform="rotate(0.04 1382.25 720.40)">HHYG-60050</text>
<text x="1382.25" y="737.75" transform="rotate(0.04 1382.25 737.75)">HHYG-600150</text>
<text x="1382.25" y="755.10" transform="rotate(0.04 1382.25 755.10)">HHYG-600300</text>
</g>
<g>
<text x="63.45" y="772.70" transform="rotate(0.04 63.45 772.70)">HHYG-80050</text>
<text x="63.45" y="790.05" transform="rotate(0.04 63.45 790.05)">HHYG-800150</text>
<text x="63.45" y="807.40" transform="rotate(0.04 63.45 807.40)">HHYG-800300</text>
<text x="158.95" y="790.05" transform="rotate(0.04 158.95 790.05)">800</text>
<text x="223.45" y="790.05" transform="rotate(0.04 223.45 790.05)">8358</text>
<text x="288.50" y="772.70" transform="rotate(0.04 288.50 772.70)">50</text>
<text x="288.50" y="790.05" transform="rotate(0.04 288.50 790.05)">150</text>
<text x="288.50" y="807.40" transform="rotate(0.04 288.50 807.40)">300</text>
<text x="366.00" y="790.05" transform="rotate(0.04 366.00 790.05)">1194</text>
<text x="450.40" y="772.70" transform="rotate(0.04 450.40 772.70)">5973</text>
<text x="450.40" y="790.05" transform="rotate(0.04 450.40 790.05)">17919</text>
<text x="450.40" y="807.40" transform="rotate(0.04 450.40 807.40)">35838</text>
<text x="528.05" y="772.70" transform="rotate(0.04 528.05 772.70)">424</text>
<text x="528.05" y="790.05" transform="rotate(0.04 528.05 790.05)">524</text>
<text x="528.05" y="807.40" transform="rotate(0.04 528.05 807.40)">674</text>
<text x="612.20" y="772.70" transform="rotate(0.04 612.20 772.70)">474</text>
<text x="612.20" y="790.05" transform="rotate(0.04 612.20 790.05)">674</text>
<text x="612.20" y="807.40" transform="rotate(0.04 612.20 807.40)">974</text>
<text x="696.35" y="790.05" transform="rotate(0.04 696.35 790.05)">472</text>
<text x="767.60" y="790.05" transform="rotate(0.04 767.60 790.05)">390</text>
<text x="832.40" y="790.05" transform="rotate(0.04 832.40 790.05)">320</text>
<text x="897.45" y="772.70" transform="rotate(0.04 897.45 772.70)">560</text>
<text x="897.45" y="790.05" transform="rotate(0.04 897.45 790.05)">665</text>
<text x="897.45" y="807.40" transform="rotate(0.04 897.45 807.40)">825</text>
<text x="974.70" y="790.05" transform="rotate(0.04 974.70 790.05)">293</text>
<text x="1058.75" y="790.05" transform="rotate(0.04 1058.75 790.05)">2</text>
<text x="1142.88" y="772.70" transform="rotate(0.04 1142.88 772.70)" letter-spacing="-0.35">Eye bolts</text>
<text x="1142.88" y="790.05" transform="rotate(0.04 1142.88 790.05)" letter-spacing="-0.35">Eye bolts</text>
<text x="1142.88" y="807.40" transform="rotate(0.04 1142.88 807.40)" letter-spacing="-0.35">Eye bolts</text>
<text x="1382.25" y="772.70" transform="rotate(0.04 1382.25 772.70)">HHYG-80050</text>
<text x="1382.25" y="790.05" transform="rotate(0.04 1382.25 790.05)">HHYG-800150</text>
<text x="1382.25" y="807.40" transform="rotate(0.04 1382.25 807.40)">HHYG-800300</text>
</g>
<g>
<text x="63.45" y="825.00" transform="rotate(0.04 63.45 825.00)">HHYG-100050</text>
<text x="63.45" y="842.35" transform="rotate(0.04 63.45 842.35)">HHYG-1000150</text>
<text x="63.45" y="859.70" transform="rotate(0.04 63.45 859.70)">HHYG-1000300</text>
<text x="158.95" y="842.35" transform="rotate(0.04 158.95 842.35)">1000</text>
<text x="223.45" y="842.35" transform="rotate(0.04 223.45 842.35)">10161</text>
<text x="288.50" y="825.00" transform="rotate(0.04 288.50 825.00)">50</text>
<text x="288.50" y="842.35" transform="rotate(0.04 288.50 842.35)">150</text>
<text x="288.50" y="859.70" transform="rotate(0.04 288.50 859.70)">300</text>
<text x="366.00" y="842.35" transform="rotate(0.04 366.00 842.35)">1451.5</text>
<text x="450.40" y="825.00" transform="rotate(0.04 450.40 825.00)">7261</text>
<text x="450.40" y="842.35" transform="rotate(0.04 450.40 842.35)">21783</text>
<text x="450.40" y="859.70" transform="rotate(0.04 450.40 859.70)">43566</text>
<text x="528.05" y="825.00" transform="rotate(0.04 528.05 825.00)">477</text>
<text x="528.05" y="842.35" transform="rotate(0.04 528.05 842.35)">577</text>
<text x="528.05" y="859.70" transform="rotate(0.04 528.05 859.70)">727</text>
<text x="612.20" y="825.00" transform="rotate(0.04 612.20 825.00)">527</text>
<text x="612.20" y="842.35" transform="rotate(0.04 612.20 842.35)">727</text>
<text x="612.20" y="859.70" transform="rotate(0.04 612.20 859.70)">1027</text>
<text x="696.35" y="842.35" transform="rotate(0.04 696.35 842.35)">530</text>
<text x="767.60" y="842.35" transform="rotate(0.04 767.60 842.35)">430</text>
<text x="832.40" y="842.35" transform="rotate(0.04 832.40 842.35)">360</text>
<text x="897.45" y="825.00" transform="rotate(0.04 897.45 825.00)">799</text>
<text x="897.45" y="842.35" transform="rotate(0.04 897.45 842.35)">937</text>
<text x="897.45" y="859.70" transform="rotate(0.04 897.45 859.70)">1145</text>
<text x="974.70" y="842.35" transform="rotate(0.04 974.70 842.35)">326</text>
<text x="1058.75" y="842.35" transform="rotate(0.04 1058.75 842.35)">2</text>
<text x="1142.88" y="825.00" transform="rotate(0.04 1142.88 825.00)" letter-spacing="-0.35">Eye bolts</text>
<text x="1142.88" y="842.35" transform="rotate(0.04 1142.88 842.35)" letter-spacing="-0.35">Eye bolts</text>
<text x="1142.88" y="859.70" transform="rotate(0.04 1142.88 859.70)" letter-spacing="-0.35">Eye bolts</text>
<text x="1382.25" y="825.00" transform="rotate(0.04 1382.25 825.00)">HHYG-100050</text>
<text x="1382.25" y="842.35" transform="rotate(0.04 1382.25 842.35)">HHYG-1000150</text>
<text x="1382.25" y="859.70" transform="rotate(0.04 1382.25 859.70)">HHYG-1000300</text>
</g>
<g>
<text x="1253.35" y="171.25" transform="rotate(0.04 1253.35 171.25)">HHB-700C</text>
<text x="1253.35" y="223.42" transform="rotate(0.04 1253.35 223.42)">HHB-700</text>
<text x="1253.35" y="249.70" transform="rotate(0.04 1253.35 249.70)">HHB-700C</text>
<text x="1253.35" y="267.05" transform="rotate(0.04 1253.35 267.05)">HHB-700</text>
<text x="1253.35" y="284.40" transform="rotate(0.04 1253.35 284.40)">HHB-700A</text>
<text x="1253.35" y="302.00" transform="rotate(0.04 1253.35 302.00)">HHB-700</text>
<text x="1253.35" y="371.65" transform="rotate(0.04 1253.35 371.65)">HHB-700A</text>
<text x="1253.35" y="441.30" transform="rotate(0.04 1253.35 441.30)">HHB-630A</text>
<text x="1253.35" y="458.90" transform="rotate(0.04 1253.35 458.90)">HHB-700A</text>
<text x="1253.35" y="511.07" transform="rotate(0.04 1253.35 511.07)">HHB-630A</text>
<text x="1253.35" y="563.50" transform="rotate(0.04 1253.35 563.50)">HHB-630A</text>
<text x="1253.35" y="720.28" transform="rotate(0.04 1253.35 720.28)">HHB-630M</text>
</g>
</g>
</svg>
</div>
</body>
</html>
